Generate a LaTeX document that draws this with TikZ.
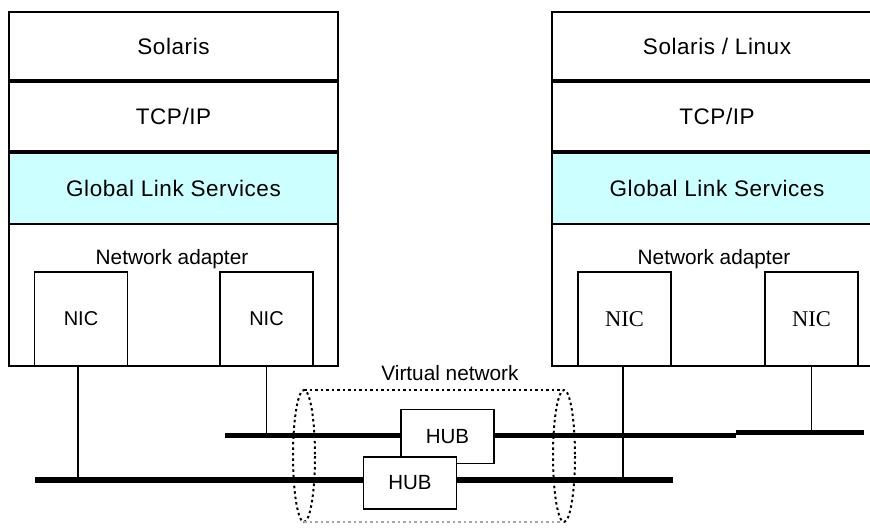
\documentclass[tikz,border=0pt]{standalone}
\usepackage{fontspec}
\setmainfont{Liberation Sans}
\newfontfamily\layerfont[LetterSpace=2.5]{Liberation Sans}
\newfontfamily\seriffont{Liberation Serif}
\definecolor{glscyan}{RGB}{204,255,255}
\begin{document}
\begin{tikzpicture}[x=1pt,y=-1pt,
  layer/.style={draw=black,line width=1.6pt,fill=white,minimum width=#1,inner sep=0pt,outer sep=0pt,
     font=\layerfont\fontsize{22.5}{24}\selectfont},
  nic/.style={draw=black,line width=1.3pt,fill=white,minimum width=93pt,minimum height=94pt,inner sep=0pt,outer sep=0pt,
     font=\fontsize{20}{24}\selectfont},
  hub/.style={draw=black,line width=1.3pt,fill=white,minimum width=93pt,minimum height=54pt,inner sep=0pt,outer sep=0pt,
     font=\fontsize{20.5}{24}\selectfont},
  lbl/.style={inner sep=0pt,font=\fontsize{20.8}{24}\selectfont},
  thicksep/.style={line width=3.2pt},
  wire/.style={line width=1.7pt},
  bus/.style={line width=5pt},
  vdot/.style={line width=2pt,dash pattern=on 2.5pt off 3pt}
]
\useasboundingbox (0,0) rectangle (870,528);
\clip (0,0) rectangle (870,528);

% ---- left stack
\node[layer=329pt,minimum height=69pt] (sA) at (173.5,46.5) {Solaris};
\node[layer=329pt,minimum height=71pt] (tA) at (173.5,116.5) {TCP/IP};
\node[layer=329pt,minimum height=72pt,fill=glscyan] (gA) at (173.5,188) {Global Link Services};
\node[layer=329pt,minimum height=142pt] (aA) at (173.5,295) {};
\node[lbl] (naA) at (172,259) {Network adapter};
\node[nic] (n1) at (81,319) {NIC};
\node[nic] (n2) at (266.5,319) {NIC};
\draw[thicksep] (sA.south west) -- (sA.south east);
\draw[thicksep] (tA.south west) -- (tA.south east);

% ---- right stack
\node[layer=330pt,minimum height=69pt] (sB) at (717,46.5) {Solaris / Linux};
\node[layer=330pt,minimum height=71pt] (tB) at (717,116.5) {TCP/IP};
\node[layer=330pt,minimum height=72pt,fill=glscyan] (gB) at (717,188) {Global Link Services};
\node[layer=330pt,minimum height=142pt] (aB) at (717,295) {};
\node[lbl] (naB) at (714,259) {Network adapter};
\node[nic,font=\seriffont\fontsize{22.5}{24}\selectfont] (n3) at (624.5,319) {NIC};
\node[nic,font=\seriffont\fontsize{22.5}{24}\selectfont] (n4) at (811.5,319) {NIC};
\draw[thicksep] (sB.south west) -- (sB.south east);
\draw[thicksep] (tB.south west) -- (tB.south east);

% ---- buses
\coordinate (ub1) at (225,435);
\coordinate (ub2) at (736,435);
\coordinate (ub3) at (736,432);
\coordinate (ub4) at (864,432);
\coordinate (lb1) at (35,480);
\coordinate (lb2) at (673,480);
\draw[bus] (ub1) -- (ub2);
\draw[bus] (ub3) -- (ub4);
\draw[bus,line width=6pt] (lb1) -- (lb2);

% ---- drops
\draw[wire] ([xshift=-3pt]n1.south) -- ([xshift=-3pt]n1.south |- lb1);
\draw[wire] (n2.south) -- (n2.south |- ub1);
\draw[wire] ([xshift=-1.5pt]n3.south) -- ([xshift=-1.5pt]n3.south |- lb1);
\draw[wire] (n4.south) -- (n4.south |- ub3);

% ---- hubs
\node[hub] (h1) at (447.5,436.5) {HUB};
\node[hub,minimum height=52pt] (h2) at (410,483) {HUB};

% ---- virtual network
\node[lbl] (vn) at (450,373) {Virtual network};
\coordinate (vl) at (304,456);
\coordinate (vr) at (564,456);
\draw[vdot] (vl) ellipse (11 and 66);
\draw[vdot] (vr) ellipse (11 and 66);
\draw[vdot] ([yshift=66pt]vl) -- ([yshift=66pt]vr);
\draw[vdot,draw=black!35] ([yshift=-66pt]vl) -- ([yshift=-66pt]vr);
\end{tikzpicture}
\end{document}
